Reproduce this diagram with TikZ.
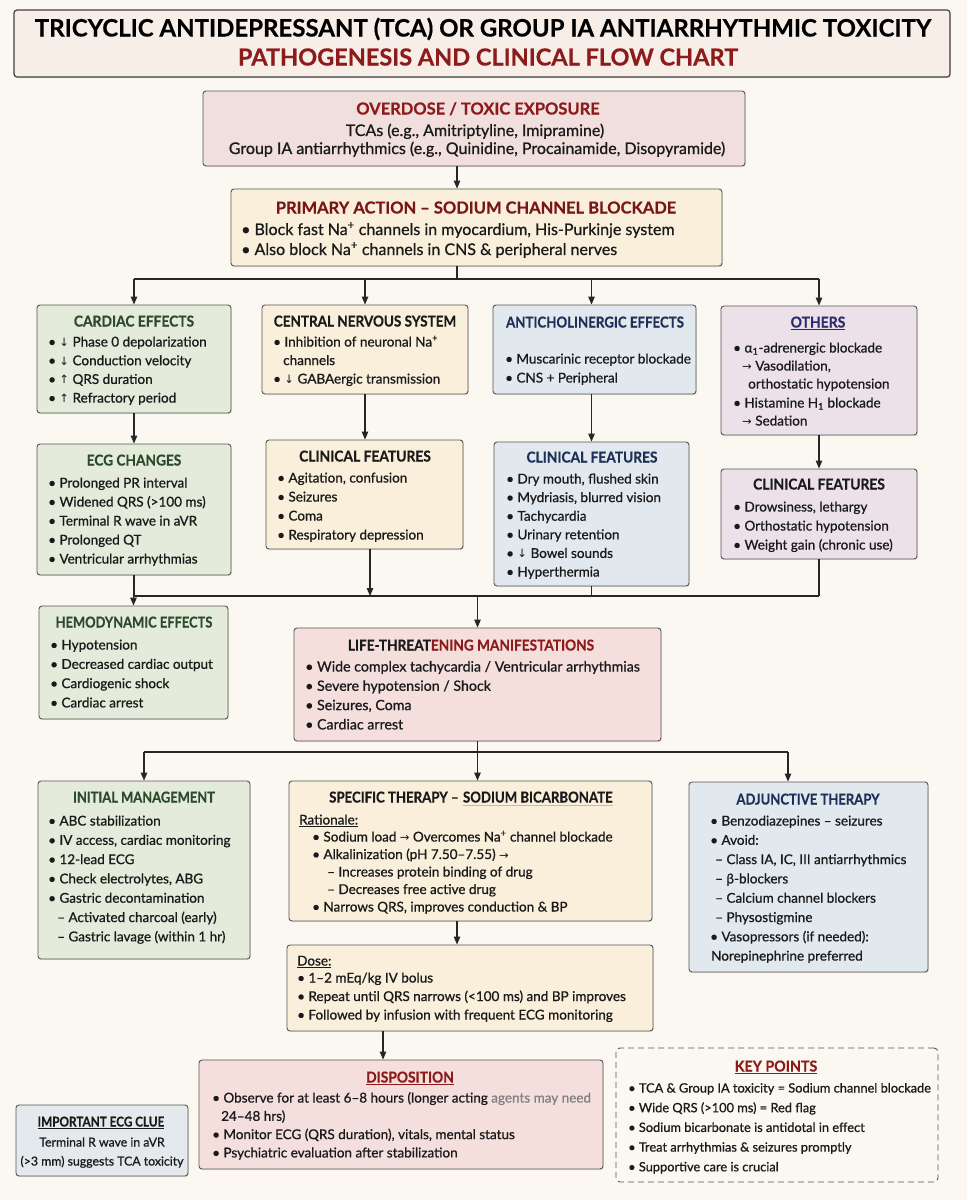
\documentclass[tikz,border=0pt]{standalone}
\usepackage{fontspec}
\usepackage{graphicx}
\setmainfont{Lato}
\newfontfamily\latof{Lato}[BoldFeatures={FakeBold=0.5}]
\newfontfamily\bodyf{Lato}[FakeBold=0.8]
\newfontfamily\symf{DejaVu Sans}
\usetikzlibrary{arrows.meta,fit,shadows}

\definecolor{bg}{HTML}{FBF8F1}
\definecolor{linec}{HTML}{262626}
\definecolor{boxc}{HTML}{555555}
\definecolor{txtc}{HTML}{1A1A1A}
\definecolor{redt}{HTML}{8E1B1B}
\definecolor{greent}{HTML}{2C4A2B}
\definecolor{navyt}{HTML}{1F2F57}
\definecolor{purt}{HTML}{2B2B70}
\definecolor{fTitle}{HTML}{F7EEE8}
\definecolor{fPink}{HTML}{F0DFDC}
\definecolor{fCream}{HTML}{F9EFDB}
\definecolor{fGreen}{HTML}{E4EBDB}
\definecolor{fBlue}{HTML}{E1E8EE}
\definecolor{fLav}{HTML}{ECE1E9}
\definecolor{fLife}{HTML}{F4DFDD}
\definecolor{fGray}{HTML}{E4E9ED}
\definecolor{ulorange}{HTML}{E2B86A}

\newcommand\dnarr{{\symf\fontsize{11.5}{12}\selectfont ↓}}
\newcommand\uparr{{\symf\fontsize{11.5}{12}\selectfont ↑}}
\newcommand\rtarr{{\symf\fontsize{11.5}{12}\selectfont →}}
\newcommand\tsc[2]{\scalebox{#1}[1]{#2}}

\newcommand\blines[6]{%
  \foreach \itm [count=\k] in {#6}{\node[txt,#5] (#1-\k) at (#2,{#3+(\k-1)*#4}) {\itm};}}

\tikzset{
  box/.style={draw=boxc, line width=0.9pt, rounded corners=3pt, inner sep=0pt,
    drop shadow={shadow xshift=0.8pt, shadow yshift=-1.2pt, opacity=0.18}},
  ttl/.style={anchor=base, inner sep=0pt, font=\latof\bfseries\fontsize{15}{18}\selectfont},
  txt/.style={anchor=base west, inner sep=0pt, font=\bodyf\fontsize{13.5}{16}\selectfont, text=txtc},
  big/.style={font=\bodyf\fontsize{16}{19}\selectfont},
  arr/.style={draw=linec, line width=1.1pt, -{Triangle[length=8pt,width=6.5pt]}},
  ln/.style={draw=linec, line width=1.1pt},
}

\begin{document}
\begin{tikzpicture}[x=1pt,y=-1pt]
\useasboundingbox (0,0) rectangle (967,1200);
\fill[bg] (0,0) rectangle (967,1200);

% ---------- title ----------
\node[box, fill=fTitle, line width=1.2pt, draw=black!75, fit={(14,10) (950,77)}] (tbox) {};
\node[ttl, font=\latof\bfseries\fontsize{24}{28}\selectfont, text=black] (t1) at (483,36.5)
  {TRICYCLIC ANTIDEPRESSANT (TCA) OR GROUP IA ANTIARRHYTHMIC TOXICITY};
\node[ttl, font=\latof\bfseries\fontsize{23.5}{28}\selectfont, text=redt] (t2) at (488,65.5)
  {PATHOGENESIS AND CLINICAL FLOW CHART};

% ---------- boxes ----------
\node[box, fill=fPink,  fit={(203,91) (745,166)}] (over) {};
\node[box, fill=fCream, fit={(231,189) (722,266)}] (prim) {};
\node[box, fill=fGreen, fit={(37,305) (231,413)}] (card) {};
\node[box, fill=fCream, fit={(262,305) (468,394)}] (cns) {};
\node[box, fill=fBlue,  fit={(493,305) (696,394)}] (ac) {};
\node[box, fill=fLav,   fit={(721,306) (917,435)}] (oth) {};
\node[box, fill=fGreen, fit={(37,444) (231,575)}] (ecg) {};
\node[box, fill=fCream, fit={(266,440) (463,549)}] (cnscf) {};
\node[box, fill=fBlue,  fit={(494,442) (689,586)}] (accf) {};
\node[box, fill=fLav,   fit={(721,469) (917,559)}] (othcf) {};
\node[box, fill=fGreen, fit={(39,606) (228,719)}] (hemo) {};
\node[box, fill=fLife,  fit={(294,628) (661,741)}] (life) {};
\node[box, fill=fGreen, fit={(38,781) (250,959)}] (init) {};
\node[box, fill=fCream, fit={(289,781) (652,921)}] (spec) {};
\node[box, fill=fCream, fit={(287,945) (653,1031)}] (dose) {};
\node[box, fill=fBlue,  fit={(689,782) (928,972)}] (adj) {};
\node[box, fill=fLife,  fit={(199,1060) (603,1169)}] (disp) {};
\node[box, fill=fGray,  fit={(16,1105) (188,1176)}] (clue) {};
\node[draw=boxc, line width=0.9pt, dashed, dash pattern=on 6pt off 4pt, rounded corners=4pt, inner sep=0pt,
      fit={(616,1048) (938,1182)}] (key) {};

% ---------- connectors ----------
\coordinate (a1) at (457,0);
\coordinate (bus1) at (0,279);
\coordinate (bus2) at (0,596);
\coordinate (bus3) at (0,752);
\coordinate (c2) at (370,0);
\coordinate (c4) at (788,0);
\coordinate (c6) at (383,0);

\draw[arr] (over.south -| a1) -- (prim.north -| a1);
\draw[ln] (prim.south -| a1) -- (a1 |- bus1);
\draw[ln] (card.north |- bus1) -- (oth.north |- bus1);
\draw[arr] (card.north |- bus1) -- (card.north);
\draw[arr] (cns.north |- bus1) -- (cns.north);
\draw[arr] (accf.north |- bus1) -- (accf.north |- ac.north);
\draw[arr] (oth.north |- bus1) -- (oth.north);

\draw[arr] (card.south) -- (ecg.north);
\draw[arr] (cns.south) -- (cns.south |- cnscf.north);
\draw[arr] (accf.north |- ac.south) -- (accf.north);
\draw[arr] (oth.south) -- (othcf.north);

\draw[ln] (ecg.south) -- (ecg.south |- bus2);
\draw[ln] (ecg.south |- bus2) -- (othcf.south |- bus2);
\draw[arr] (cnscf.south -| c2) -- (c2 |- bus2);
\draw[ln] (accf.south) -- (accf.south |- bus2);
\draw[ln] (othcf.south) -- (othcf.south |- bus2);
\draw[arr] (hemo.north |- bus2) -- (hemo.north);
\draw[arr] (life.north |- bus2) -- (life.north);

\draw[ln] (life.south) -- (life.south |- bus3);
\draw[ln] (init.north |- bus3) -- (c4 |- bus3);
\draw[arr] (init.north |- bus3) -- (init.north);
\draw[arr] (life.south |- bus3) -- (life.south |- spec.north);
\draw[arr] (c4 |- bus3) -- (c4 |- adj.north);
\draw[arr] (spec.south -| a1) -- (dose.north -| a1);
\draw[arr] (dose.south -| c6) -- (disp.north -| c6);

% ---------- texts ----------
\node[ttl, font=\latof\bfseries\fontsize{16.5}{19}\selectfont, text=redt] (overT) at (478,114.5) {OVERDOSE / TOXIC EXPOSURE};
\node[txt, big, anchor=base] (over-1) at (475,136) {TCAs (e.g., Amitriptyline, Imipramine)};
\node[txt, big, anchor=base] (over-2) at (477,154) {Group IA antiarrhythmics (e.g., Quinidine, Procainamide, Disopyramide)};

\node[ttl, font=\latof\bfseries\fontsize{16.5}{19}\selectfont, text=redt!85!black] (primT) at (476,213.5) {PRIMARY ACTION – SODIUM CHANNEL BLOCKADE};
\blines{prim}{241}{235}{20}{big}{{• Block fast Na\textsuperscript{+} channels in myocardium, His-Purkinje system},{• Also block Na\textsuperscript{+} channels in CNS \& peripheral nerves}}

\node[ttl, text=greent] (cardT) at (134,326.5) {\tsc{0.92}{CARDIAC EFFECTS}};
\blines{card}{48}{346.5}{18.7}{}{{• \dnarr\ Phase 0 depolarization},{• \dnarr\ Conduction velocity},{• \uparr\ QRS duration},{• \uparr\ Refractory period}}

\node[ttl, text=txtc] (cnsT) at (365,326.5) {\tsc{0.9}{CENTRAL NERVOUS SYSTEM}};
\blines{cns}{273}{346.5}{18.5}{}{{• Inhibition of neuronal Na\textsuperscript{+}},{\hspace*{10pt}channels},{• \dnarr\ GABAergic transmission}}

\node[ttl, text=navyt] (acT) at (595,327.5) {\tsc{0.885}{ANTICHOLINERGIC EFFECTS}};
\blines{ac}{505}{363.5}{19}{}{{• Muscarinic receptor blockade},{• CNS + Peripheral}}

\node[ttl, text=purt] (othT) at (818,327.5) {\tsc{0.93}{\underline{OTHERS}}};
\node[txt] (oth-1) at (733,352.5) {• α\textsubscript{1}-adrenergic blockade};
\node[txt] (oth-2) at (742,370.5) {\rtarr\ Vasodilation,};
\node[txt] (oth-3) at (748,388.5) {orthostatic hypotension};
\node[txt] (oth-4) at (733,407.5) {• Histamine H\textsubscript{1} blockade};
\node[txt] (oth-5) at (742,425.5) {\rtarr\ Sedation};

\node[ttl, text=greent] (ecgT) at (134,465.5) {\tsc{0.91}{ECG CHANGES}};
\blines{ecg}{48}{487.5}{19}{}{{• Prolonged PR interval},{• Widened QRS (>100 ms)},{• Terminal R wave in aVR},{• Prolonged QT},{• Ventricular arrhythmias}}

\node[ttl, text=txtc] (cnscfT) at (365,461.5) {\tsc{0.92}{CLINICAL FEATURES}};
\blines{cnscf}{277}{482.5}{19}{}{{• Agitation, confusion},{• Seizures},{• Coma},{• Respiratory depression}}

\node[ttl, text=navyt] (accfT) at (592,462.5) {\tsc{0.915}{CLINICAL FEATURES}};
\blines{accf}{506}{483.5}{18.6}{}{{• Dry mouth, flushed skin},{• Mydriasis, blurred vision},{• Tachycardia},{• Urinary retention},{• \dnarr\ Bowel sounds},{• Hyperthermia}}

\node[ttl, text=txtc] (othcfT) at (819,489.5) {\tsc{0.92}{CLINICAL FEATURES}};
\blines{othcf}{733}{511.5}{19}{}{{• Drowsiness, lethargy},{• Orthostatic hypotension},{• Weight gain (chronic use)}}

\node[ttl, text=greent] (hemoT) at (134,627.5) {\tsc{0.86}{HEMODYNAMIC EFFECTS}};
\blines{hemo}{50}{649.5}{19.3}{}{{• Hypotension},{• Decreased cardiac output},{• Cardiogenic shock},{• Cardiac arrest}}

\node[ttl, text=txtc] (lifeT) at (471,650.5) {\tsc{0.91}{LIFE-THREAT\textcolor{redt}{ENING MANIFESTATIONS}}};
\blines{life}{305}{671.5}{19.3}{font=\bodyf\fontsize{14.2}{17}\selectfont}{{• Wide complex tachycardia / Ventricular arrhythmias},{• Severe hypotension / Shock},{• Seizures, Coma},{• Cardiac arrest}}

\node[ttl, text=greent] (initT) at (144,802.5) {\tsc{0.86}{INITIAL MANAGEMENT}};
\blines{init}{48}{825.5}{19.3}{}{{• ABC stabilization},{• IV access, cardiac monitoring},{• 12-lead ECG},{• Check electrolytes, ABG},{• Gastric decontamination},{\hspace*{9pt}– Activated charcoal (early)},{\hspace*{9pt}– Gastric lavage (within 1 hr)}}

\node[ttl, anchor=base west, text=txtc] (specT) at (329,802.5) {\tsc{0.88}{SPECIFIC THERAPY –}};
\node[ttl, anchor=base west, text=txtc, xshift=4pt] (specU) at (specT.base east) {\tsc{0.88}{SODIUM BICARBONATE}};
\draw[ulorange, line width=1.2pt] ([yshift=-3pt]specU.base west) -- ([yshift=-3pt]specU.base east);
\node[txt] (specR) at (299,824.5) {\underline{Rationale:}};
\blines{spec}{312}{841.5}{17.5}{}{{• Sodium load \rtarr\ Overcomes Na\textsuperscript{+} channel blockade},{• Alkalinization (pH 7.50–7.55) \rtarr},{\hspace*{15pt}– Increases protein binding of drug},{\hspace*{15pt}– Decreases free active drug},{• Narrows QRS, improves conduction \& BP}}

\node[txt] (doseT) at (297,965.5) {\underline{Dose:}};
\blines{dose}{297}{982.5}{18.5}{}{{• 1–2 mEq/kg IV bolus},{• Repeat until QRS narrows (<100 ms) and BP improves},{• Followed by infusion with frequent ECG monitoring}}

\node[ttl, text=navyt] (adjT) at (808,804.5) {\tsc{0.87}{ADJUNCTIVE THERAPY}};
\blines{adj}{710}{825.5}{19.3}{}{{• Benzodiazepines – seizures},{• Avoid:},{\hspace*{5pt}– Class IA, IC, III antiarrhythmics},{\hspace*{5pt}– β-blockers},{\hspace*{5pt}– Calcium channel blockers},{\hspace*{5pt}– Physostigmine},{• Vasopressors (if needed):},{\hspace*{1pt}Norepinephrine preferred}}

\node[ttl, text=redt] (dispT) at (410,1082.5) {\tsc{0.92}{\underline{DISPOSITION}}};
\blines{disp}{212}{1102.5}{18.3}{}{{• Observe for at least 6–8 hours (longer acting \textcolor{gray}{agents may need}},{\hspace*{9pt}24–48 hrs)},{• Monitor ECG (QRS duration), vitals, mental status},{• Psychiatric evaluation after stabilization}}

\node[ttl, text=txtc, font=\latof\bfseries\fontsize{13.5}{16}\selectfont] (clueT) at (101,1126.5) {\tsc{0.87}{\underline{IMPORTANT ECG CLUE}}};
\node[txt, anchor=base, font=\bodyf\fontsize{12.3}{15}\selectfont] (clue-1) at (102,1146.5) {Terminal R wave in aVR};
\node[txt, anchor=base, font=\bodyf\fontsize{12.3}{15}\selectfont] (clue-2) at (102,1165.5) {(>3 mm) suggests TCA toxicity};

\node[ttl, text=redt] (keyT) at (776,1071.5) {\tsc{0.95}{\underline{KEY POINTS}}};
\blines{key}{628}{1092.5}{19.7}{font=\bodyf\fontsize{12.8}{15}\selectfont}{{• TCA \& Group IA toxicity = Sodium channel blockade},{• Wide QRS (>100 ms) = Red flag},{• Sodium bicarbonate is antidotal in effect},{• Treat arrhythmias \& seizures promptly},{• Supportive care is crucial}}
\end{tikzpicture}
\end{document}
